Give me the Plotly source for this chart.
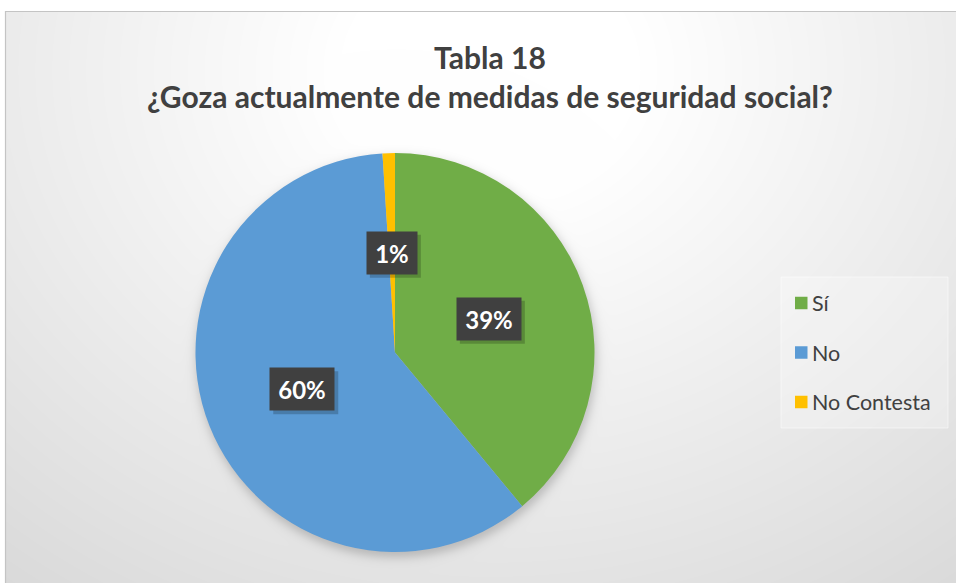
import base64, struct, zlib, math
import numpy as np
import plotly.graph_objects as go

# ---------------- data ----------------
categories = ["Sí", "No", "No Contesta"]
values = [39, 60, 1]
colors = ["#70AD47", "#5B9BD5", "#FFC000"]
title_lines = ["Tabla 18", "¿Goza actualmente de medidas de seguridad social?"]

# ---------------- layout geometry (pixels) ----------------
W, H = 956, 583
CX, CY, R = 395.0, 352.5, 199.5
FONT = "Lato"
TXT = "#404040"

def px(x):
    return x / W

def py(y):
    return 1 - y / H

# ---------------- background image (gradient + soft pie shadow) ----------------
yy, xx = np.mgrid[0:H, 0:W].astype(float)
d = np.sqrt((xx - 490) ** 2 + (1.2 * (yy - 70)) ** 2)
bg = 255 - 0.059 * np.clip(d - 150, 0, None)
rs = np.sqrt((xx - (CX + 1)) ** 2 + (yy - (CY + 4)) ** 2)
s = 0.5 * (1 - np.tanh((rs - R - 1) / 6.0))
bg = bg * (1 - 0.2 * s)
bg[:11, :] = 255
bg[:, :5] = 255
arr = np.clip(bg, 0, 255).astype(np.uint8)

def png_gray(a):
    h, w = a.shape
    raw = b"".join(b"\x00" + a[i].tobytes() for i in range(h))
    def chunk(t, dd):
        return struct.pack(">I", len(dd)) + t + dd + struct.pack(">I", zlib.crc32(t + dd) & 0xffffffff)
    return (b"\x89PNG\r\n\x1a\n" + chunk(b"IHDR", struct.pack(">IIBBBBB", w, h, 8, 0, 0, 0, 0))
            + chunk(b"IDAT", zlib.compress(raw, 9)) + chunk(b"IEND", b""))

img_uri = "data:image/png;base64," + base64.b64encode(png_gray(arr)).decode()

# ---------------- figure ----------------
fig = go.Figure()
fig.add_trace(go.Pie(
    labels=categories, values=values, sort=False, direction="clockwise", rotation=0,
    marker=dict(colors=colors, line=dict(width=0)),
    textinfo="none", hoverinfo="label+percent", showlegend=False,
    domain=dict(x=[px(CX - R), px(CX + R)], y=[py(CY + R), py(CY - R)]),
))

annotations = []
shapes = []

# title
annotations.append(dict(
    x=px(490), y=py(76.5), xref="paper", yref="paper", showarrow=False,
    xanchor="center", yanchor="middle",
    text="<b>" + title_lines[0] + "<br>" + title_lines[1] + "</b>",
    font=dict(family=FONT, size=30, color=TXT), align="center",
))

# data labels: boxes at half radius along each slice's mid-angle
total = sum(values)
cum = 0.0
PAD = 7
for v in values:
    mid = (cum + v / 2) / total * 2 * math.pi
    cum += v
    lx = CX + 0.5 * R * math.sin(mid)
    ly = CY - 0.5 * R * math.cos(mid)
    txt = f"{round(v / total * 100)}%"
    bw = 14 * (len(txt) - 1) + 22
    bh = 28
    # soft shadow of the label box
    shapes.append(dict(type="rect", xref="paper", yref="paper",
                       x0=px(lx - bw / 2 - PAD + 3), x1=px(lx + bw / 2 + PAD + 4),
                       y0=py(ly + bh / 2 + PAD + 4), y1=py(ly - bh / 2 - PAD + 3),
                       fillcolor="rgba(0,0,0,0.2)", line=dict(width=0), layer="above"))
    annotations.append(dict(
        x=px(lx), y=py(ly), xref="paper", yref="paper", showarrow=False,
        xanchor="center", yanchor="middle", width=bw, height=bh,
        text=f"<b>{txt}</b>", font=dict(family=FONT, size=24, color="#ffffff"),
        bgcolor="#404040", borderpad=PAD,
    ))

shapes += [
    # chart area border
    dict(type="line", xref="paper", yref="paper", x0=px(5), x1=px(W), y0=py(11.5), y1=py(11.5),
         line=dict(color="#c4c4c4", width=1.2)),
    dict(type="line", xref="paper", yref="paper", x0=px(5.5), x1=px(5.5), y0=py(11), y1=py(H),
         line=dict(color="#c4c4c4", width=1.2)),
    # legend box
    dict(type="rect", xref="paper", yref="paper", x0=px(781), x1=px(948), y0=py(428), y1=py(277),
         fillcolor="rgba(255,255,255,0.25)", line=dict(color="rgba(255,255,255,0.5)", width=1),
         layer="below"),
]

# manual legend
for i, (cat, col) in enumerate(zip(categories, colors)):
    yc = 303 + i * 49.5
    shapes.append(dict(type="rect", xref="paper", yref="paper",
                       x0=px(795), x1=px(807.5), y0=py(yc + 6.25), y1=py(yc - 6.25),
                       fillcolor=col, line=dict(width=0)))
    annotations.append(dict(
        x=px(810), y=py(yc), xref="paper", yref="paper", showarrow=False,
        xanchor="left", yanchor="middle", text=cat,
        font=dict(family=FONT, size=21.5, color=TXT),
    ))

fig.update_layout(
    width=W, height=H, margin=dict(l=0, r=0, t=0, b=0),
    paper_bgcolor="#ffffff", plot_bgcolor="rgba(0,0,0,0)",
    images=[dict(source=img_uri, xref="paper", yref="paper", x=0, y=1, sizex=1, sizey=1,
                 xanchor="left", yanchor="top", sizing="stretch", layer="below")],
    shapes=shapes, annotations=annotations,
    font=dict(family=FONT, color=TXT),
)

fig.write_html("out.html", config={"displayModeBar": False},
               post_script="document.body.style.margin='0';document.body.style.overflow='hidden';")
